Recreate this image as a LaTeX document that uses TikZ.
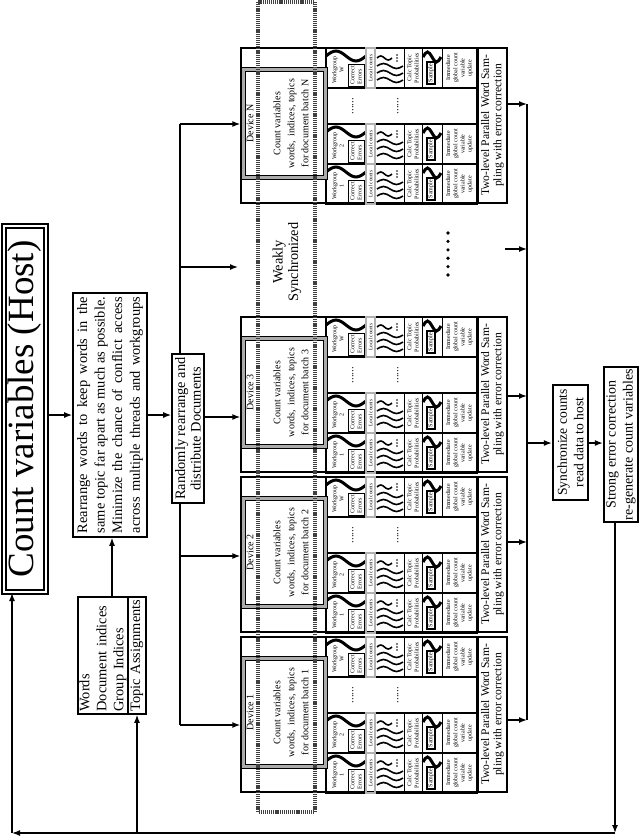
\documentclass[tikz,border=0pt]{standalone}
\usepackage{fontspec}
\setmainfont{Liberation Serif}
\usetikzlibrary{arrows.meta}
\newcommand{\myfs}[2]{\fontsize{#1}{#2}\selectfont}
\begin{document}
\begin{tikzpicture}[x=0.5pt,y=-0.5pt,
  ln/.style={line width=0.7pt},
  arr/.style={line width=0.7pt,-{Latex[length=4pt,width=3pt]}},
  rbox/.style={draw, rotate=90, inner sep=0pt, align=center, line width=0.8pt},
  titlebox/.style={draw, rotate=90, inner sep=0pt, line width=1pt, double, double distance=1.2pt},
  devframe/.style={draw, rotate=90, line width=0.7pt, inner sep=0pt},
  devbox/.style={draw, rotate=90, line width=0.6pt, double=gray!65, double distance=1.2pt, minimum width=54pt, minimum height=41pt, inner sep=0pt},
  devtext/.style={rotate=90, align=center, inner sep=0pt, font=\myfs{5}{7}},
  twobox/.style={draw, rotate=90, line width=1.1pt, align=center, inner sep=0pt, font=\myfs{5.8}{6.2}, minimum width=77.5pt, minimum height=14.5pt},
  tinytxt/.style={rotate=90, align=center, inner sep=0.2pt, font=\myfs{3}{3.6}},
  tinybox/.style={tinytxt, draw, line width=0.5pt},
  localbox/.style={tinytxt, draw, line width=0.4pt, double=gray!60, double distance=0.6pt, minimum width=20pt, minimum height=4.5pt, font=\myfs{2.6}{3}},
  samplebox/.style={tinytxt, draw, line width=0.8pt, minimum width=11pt, minimum height=4pt},
  gapdots/.style={rotate=90, inner sep=0pt, font=\myfs{5.5}{6}},
  bigwave/.style={line width=1.5pt},
  thread/.style={line width=0.8pt},
  weakframe/.style={draw=black!75, rotate=90, line width=1.6pt, dash pattern=on 0.6pt off 0.45pt, inner sep=0pt}
]
\useasboundingbox (0,0) rectangle (640,837);

% host title
\node[titlebox, minimum width=183pt, minimum height=21pt, font=\myfs{18.5}{20}] (title) at (25,409) {Count variables (Host)};

% rearrange box
\node[rbox, minimum width=122pt, minimum height=37pt, font=\myfs{7.2}{8.8}] (rearr) at (110,415)
 {\makebox[118pt][s]{Rearrange words to keep words in the}\\
  \makebox[118pt][s]{same topic far apart as much as possible.}\\
  \makebox[118pt][s]{Minimize the chance of conflict access}\\
  \makebox[118pt][s]{across multiple threads and workgroups}};

% words box
\node[rbox, minimum width=58.5pt, minimum height=25pt, align=left, text width=56pt, font=\myfs{7.2}{8.5}] (words) at (103,655.5) {Words\\Document indices\\Group Indices};
\node[rbox, minimum width=58.5pt, minimum height=9pt, align=left, text width=56pt, font=\myfs{7.2}{8.5}] (topic) at (137,655.5) {Topic Assignments};

% random distribute
\node[rbox, minimum width=74.5pt, minimum height=16pt, font=\myfs{7.2}{7.8}] (rand) at (188,428.5) {Randomly rearrange and\\distribute Documents};

% weakly synchronized
\node[rotate=90, align=center, inner sep=0pt, font=\myfs{7.2}{7.8}] (weak) at (287,262) {Weakly\\Synchronized};

% devices
\foreach \tp/\dn in {48/N,317/3,477/2,637/1}{
  \node[devframe, minimum width=77.5pt, minimum height=118pt] (dev\dn) at (359,\tp+77.5) {};
  \foreach \co/\wn in {0/W,76/2,116/1}{
    \pgfmathsetmacro{\cc}{\tp+\co}
    \draw[ln] (326,\cc) rectangle (477,\cc+40);
    \draw[bigwave] (326,\cc+8) sin (336,\cc+3) cos (346,\cc+8) sin (356,\cc+13) cos (366,\cc+8);
    \node[tinytxt] (wl\dn\wn) at (338,\cc+22) {Workgroup\\\wn};
    \node[tinybox, minimum width=11pt, minimum height=8pt, align=left] (ce\dn\wn) at (356,\cc+27) {Correct\\Errors};
    \node[localbox] (lc\dn\wn) at (370.5,\cc+20) {Local counts};
    \draw[thread] (377,\cc+10) sin (380.75,\cc+8) cos (384.5,\cc+10) sin (388.25,\cc+12) cos (392,\cc+10);
    \foreach \yy in {18,25,32}
      \draw[thread] (377,\cc+\yy) sin (383.5,\cc+\yy-2.5) cos (390,\cc+\yy) sin (396.5,\cc+\yy+2.5) cos (403,\cc+\yy);
    \foreach \yy in {7,10,13}
      \fill (397,\cc+\yy) circle[radius=0.4pt];
    \node[tinybox, minimum width=20pt, minimum height=9pt] (ct\dn\wn) at (413,\cc+20) {Calc Topic\\Probabilities};
    \draw[bigwave] (423,\cc+9) sin (427.5,\cc+4) cos (432,\cc+9) sin (436.5,\cc+14) cos (441,\cc+9);
    \node[samplebox] (sm\dn\wn) at (431,\cc+25) {Sample};
    \node[tinybox, minimum width=20pt, minimum height=17.5pt] (im\dn\wn) at (459.5,\cc+20) {Immediate\\global count\\variable\\update};
  }
  \node[devbox] (box\dn) at (284.5,\tp+75.5) {};
  \node[devtext] (txt\dn) at (277.5,\tp+75.5) {Device \dn\\[6.5pt]Count variables\\words,\ \ indices, topics\\for document batch \dn};
  \node[twobox] (two\dn) at (492.5,\tp+77.5) {Two-level Parallel Word Sam-\\pling with error correction};
  \node[gapdots] (ga\dn) at (353,\tp+58) {......};
  \node[gapdots] (gb\dn) at (398,\tp+58) {......};
}

% dots between devices
\foreach \k in {0,...,5} \fill (448,233+8.4*\k) circle[radius=0.9pt];

% weakly synchronized frame
\node[weakframe, minimum width=405pt, minimum height=28.5pt] (wframe) at (286.5,407) {};

% sync and strong boxes
\node[rbox, line width=1.1pt, minimum width=57.5pt, minimum height=17.5pt, font=\myfs{6.8}{8.3}] (sync) at (570.5,442.5) {Synchronize counts\\read data to host};
\node[rbox, line width=1.1pt, minimum width=77.5pt, minimum height=17pt, font=\myfs{7}{8.5}] (strong) at (621,444.5) {Strong error correction\\re-generate count variables};

% coordinates
\coordinate (wx) at (112,0);
\coordinate (tN) at (180,124);
\coordinate (tW) at (180,267);
\coordinate (wtip) at (238,267);
\coordinate (t3) at (180,417);
\coordinate (t2) at (180,556);
\coordinate (t1) at (180,725);
\coordinate (cN) at (527,104);
\coordinate (c3) at (527,396);
\coordinate (c2) at (527,542);
\coordinate (c1) at (527,720);
\coordinate (cX) at (527,249);
\coordinate (dX) at (505,249);
\coordinate (cS) at (527,443);
\coordinate (fb) at (615,833);
\coordinate (fbl) at (12,833);

% connectors
\draw[arr] (title.south |- rearr.north) -- (rearr.north);
\draw[arr] (words.east -| wx) -- (rearr.west -| wx);
\draw[arr] (rearr.south) -- (rand.north |- rearr.south);
\draw[ln] (tN) -- (tN |- rand.east);
\draw[ln] (t1 |- rand.west) -- (t1);
\draw[arr] (tN) -- (devN.north |- tN);
\draw[arr] (tW) -- (wtip);
\draw[arr] (rand.south |- t3) -- (dev3.north |- t3);
\draw[arr] (t2) -- (dev2.north |- t2);
\draw[arr] (t1) -- (dev1.north |- t1);

\draw[ln] (cN) -- (c1);
\draw[arr] (twoN.south |- cN) -- (cN);
\draw[arr] (two3.south |- c3) -- (c3);
\draw[arr] (two2.south |- c2) -- (c2);
\draw[arr] (two1.south |- c1) -- (c1);
\draw[arr] (dX) -- (cX);
\draw[arr] (cS) -- (sync.north |- cS);
\draw[arr] (sync.south |- cS) -- (strong.north |- cS);

\draw[arr] (strong.west -| fb) -- (fb);
\draw[arr] (fb) -- (fbl);
\draw[arr] (fbl) -- (title.west -| fbl);
\draw[arr] (topic.west |- fb) -- (topic.west);
\end{tikzpicture}
\end{document}
